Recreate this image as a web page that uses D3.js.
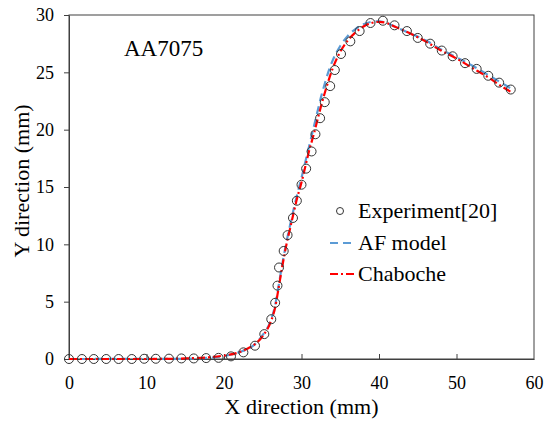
<!DOCTYPE html>
<html>
<head>
<meta charset="utf-8">
<script src="https://cdn.jsdelivr.net/npm/d3@7"></script>
</head>
<body style="margin:0">
<svg width="546" height="421"></svg>
<script>
// experiment points [x, y]
const experiment = [
    [0, 0], [1.67, 0], [3.2, 0], [4.8, 0], [6.4, 0], [8.1, 0], [9.7, 0.02], [11.2, 0.02],
    [12.9, 0.03], [14.5, 0.05], [16.1, 0.05], [17.7, 0.08], [19.3, 0.1], [20.9, 0.23],
    [22.5, 0.58], [24.0, 1.16], [25.2, 2.17], [26.1, 3.47], [26.6, 4.9], [26.9, 6.4],
    [27.1, 7.98], [27.7, 9.42], [28.2, 10.8], [28.9, 12.3], [29.4, 13.8], [30.0, 15.2],
    [30.6, 16.6], [31.3, 18.1], [31.8, 19.6], [32.4, 21.0], [33.0, 22.4], [33.7, 23.8],
    [34.3, 25.2], [35.1, 26.6], [36.3, 27.7], [37.5, 28.6], [38.9, 29.3], [40.5, 29.5],
    [42.0, 29.1], [43.6, 28.6], [45.0, 28.0], [46.6, 27.5], [48.1, 26.9], [49.5, 26.4],
    [51.1, 25.8], [52.6, 25.3], [54.1, 24.7], [55.5, 24.1], [57.0, 23.5]
];

const afModel = [
    [0, 0], [15, 0.02], [18, 0.1], [20, 0.25], [22, 0.6], [24, 1.3], [25, 2.1], [26, 3.3],
    [26.6, 4.7], [27, 6.2], [27.5, 8.2], [28, 10], [28.5, 11.6], [29, 13.1], [29.5, 14.5],
    [30, 15.8], [30.5, 17.2], [31, 18.6], [31.5, 20], [32, 21.4], [32.5, 22.8], [33, 24],
    [33.5, 25.1], [34, 26], [35, 27.3], [36, 28.2], [37, 28.8], [38, 29.2], [39, 29.4],
    [40, 29.45], [41, 29.3], [42, 29.0], [44, 28.4], [46, 27.8], [48, 27.0], [50, 26.3],
    [52, 25.6], [54, 24.8], [56, 24.0], [57, 23.6]
];

const chaboche = [
    [0, 0], [10, 0], [15, 0.05], [18, 0.15], [20, 0.3], [22, 0.6], [23, 0.9], [24, 1.3],
    [25, 2.0], [26, 3.2], [26.6, 4.5], [27, 6], [27.5, 8], [28, 9.8], [28.5, 11.3],
    [29, 12.8], [29.5, 14.2], [30, 15.4], [30.5, 16.8], [31, 18.2], [31.5, 19.4], [32, 20.7],
    [32.5, 22], [33, 23.2], [33.5, 24.3], [34, 25.3], [35, 26.8], [36, 27.8], [37, 28.5],
    [38, 29.0], [39, 29.3], [40, 29.4], [41, 29.3], [42, 29.0], [44, 28.4], [46, 27.7],
    [48, 26.9], [50, 26.2], [52, 25.4], [54, 24.6], [56, 23.7], [57, 23.3]
];

const legendLabels = ['Experiment[20]', 'AF model', 'Chaboche'];
const xTicks = [0, 10, 20, 30, 40, 50, 60];
const yTicks = [0, 5, 10, 15, 20, 25, 30];

const margin = { top: 15, right: 12, bottom: 62, left: 69 };
const svg = d3.select('svg');
const width = 546 - margin.left - margin.right;
const height = 421 - margin.top - margin.bottom;

const x = d3.scaleLinear().domain([0, 60]).range([0, width]);
const y = d3.scaleLinear().domain([0, 30]).range([height, 0]);

const g = svg.append('g').attr('transform', `translate(${margin.left},${margin.top})`);

// set serif font on a text element
const serifText = (sel, size) => sel
    .attr('font-family', 'Liberation Serif')
    .attr('font-size', size)
    .style('font-family', "'Liberation Serif'");

// x axis, ticks pointing in
const axisX = d3.axisBottom(x).tickValues(xTicks).tickSizeInner(-5).tickSizeOuter(0).tickPadding(17);
const gx = g.append('g').attr('transform', `translate(0,${height})`).call(axisX);

// y axis, ticks pointing out
const axisY = d3.axisLeft(y).tickValues(yTicks).tickSizeInner(5).tickSizeOuter(0).tickPadding(10);
const gy = g.append('g').call(axisY);

gx.attr('font-family', null).attr('font-size', null);
gy.attr('font-family', null).attr('font-size', null);
serifText(svg.selectAll('.tick text'), 18).attr('fill', '#000');
svg.selectAll('.domain, .tick line').attr('stroke', '#404040');
gx.select('.tick:first-of-type line').remove();
gx.select('.tick:last-of-type line').remove();

// frame
g.append('rect')
    .attr('width', width).attr('height', height)
    .attr('fill', 'none').attr('stroke', '#404040').attr('stroke-width', 1);

const line = d3.line().x((d) => x(d[0])).y((d) => y(d[1])).curve(d3.curveMonotoneX);

g.append('path').datum(afModel)
    .attr('d', line).attr('fill', 'none')
    .attr('stroke', '#5b9bd5').attr('stroke-width', 2.2)
    .attr('stroke-dasharray', '8,5');

g.append('path').datum(chaboche)
    .attr('d', line).attr('fill', 'none')
    .attr('stroke', '#ff0000').attr('stroke-width', 2.2)
    .attr('stroke-dasharray', '8,3,2,3');

g.selectAll('.pt').data(experiment).enter().append('circle')
    .attr('class', 'pt')
    .attr('cx', (d) => x(d[0])).attr('cy', (d) => y(d[1]))
    .attr('r', 4.5).attr('fill', 'none')
    .attr('stroke', '#333').attr('stroke-width', 1);

// labels
serifText(g.append('text').attr('x', 55).attr('y', 41), 23).text('AA7075');

serifText(svg.append('text').attr('x', margin.left + width / 2).attr('y', 414), 22)
    .attr('text-anchor', 'middle').text('X direction (mm)');

serifText(svg.append('text').attr('transform', 'translate(29,181) rotate(-90)'), 22)
    .attr('text-anchor', 'middle').text('Y direction (mm)');

// legend
const legend = svg.append('g').attr('transform', 'translate(330,211)');
legend.append('circle').attr('cx', 10).attr('cy', 0).attr('r', 3.5)
    .attr('fill', 'none').attr('stroke', '#333');
legend.append('line').attr('x1', 0).attr('x2', 25).attr('y1', 32).attr('y2', 32)
    .attr('stroke', '#5b9bd5').attr('stroke-width', 2.2).attr('stroke-dasharray', '8,5');
legend.append('line').attr('x1', 0).attr('x2', 25).attr('y1', 63).attr('y2', 63)
    .attr('stroke', '#ff0000').attr('stroke-width', 2.2).attr('stroke-dasharray', '8,3,2,3');

serifText(legend.selectAll('.lbl').data(legendLabels).enter()
    .append('text').attr('class', 'lbl')
    .attr('x', 28).attr('y', (d, i) => 7 + i * 31.5), 22)
    .text((d) => d);
</script>
</body>
</html>
